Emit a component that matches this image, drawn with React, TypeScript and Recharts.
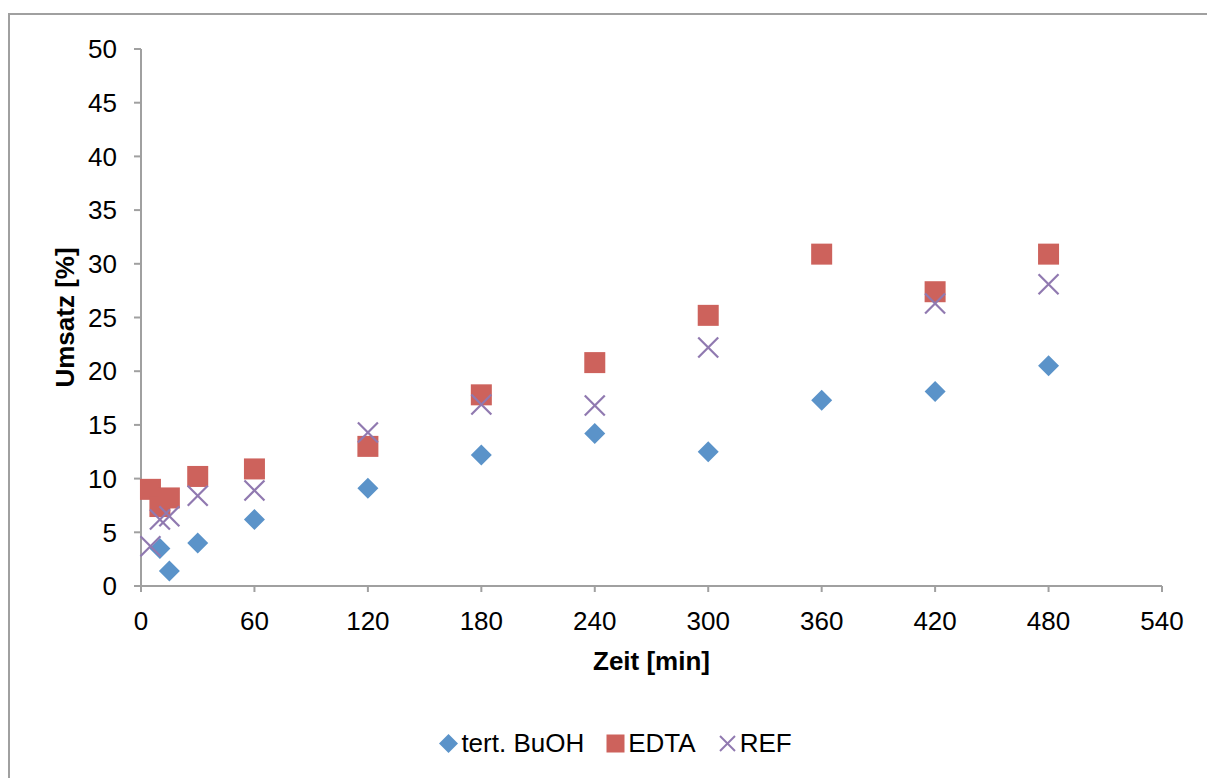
import {
  ScatterChart,
  Scatter,
  XAxis,
  YAxis,
  Legend,
  Label,
} from "recharts";

const buohTime = [10, 15, 30, 60, 120, 180, 240, 300, 360, 420, 480];
const buohValues = [3.5, 1.4, 4.0, 6.2, 9.1, 12.2, 14.2, 12.5, 17.3, 18.1, 20.5];

const edtaTime = [5, 10, 15, 30, 60, 120, 180, 240, 300, 360, 420, 480];
const edtaValues = [9.0, 7.4, 8.2, 10.2, 10.9, 13.0, 17.8, 20.8, 25.2, 30.9, 27.4, 30.9];

const refTime = [5, 10, 15, 30, 60, 120, 180, 240, 300, 420, 480];
const refValues = [3.7, 6.2, 6.5, 8.4, 8.9, 14.3, 16.9, 16.8, 22.2, 26.3, 28.1];

const xTicks = [0, 60, 120, 180, 240, 300, 360, 420, 480, 540];
const yTicks = [0, 5, 10, 15, 20, 25, 30, 35, 40, 45, 50];

const BLUE = "#5b93c9";
const RED = "#cd625c";
const PURPLE = "#9079b0";
const AXIS = "#a0a0a0";
const FONT = "'Liberation Sans', Arial, sans-serif";
const FS = 26;

const toPoints = (xs: number[], ys: number[]) =>
  xs.map((x, i) => ({ x, y: ys[i] }));

const buohData = toPoints(buohTime, buohValues);
const edtaData = toPoints(edtaTime, edtaValues);
const refData = toPoints(refTime, refValues);

const Diamond = (p: any) => {
  const { cx, cy } = p;
  const r = 10.5;
  return (
    <polygon
      points={`${cx},${cy - r} ${cx + r},${cy} ${cx},${cy + r} ${cx - r},${cy}`}
      fill={BLUE}
    />
  );
};

const Square = (p: any) => {
  const { cx, cy } = p;
  const s = 21;
  return <rect x={cx - s / 2} y={cy - s / 2} width={s} height={s} fill={RED} />;
};

const Cross = (p: any) => {
  const { cx, cy } = p;
  const r = 10;
  return (
    <g stroke={PURPLE} strokeWidth={2.2}>
      <line x1={cx - r} y1={cy - r} x2={cx + r} y2={cy + r} />
      <line x1={cx - r} y1={cy + r} x2={cx + r} y2={cy - r} />
    </g>
  );
};

const legendItems = [
  { name: "tert. BuOH", icon: "diamond" },
  { name: "EDTA", icon: "square" },
  { name: "REF", icon: "cross" },
];

function LegendIcon({ kind }: { kind: string }) {
  return (
    <svg width={19} height={19} style={{ marginRight: 3 }}>
      {kind === "diamond" && (
        <polygon points="9.5,0 19,9.5 9.5,19 0,9.5" fill={BLUE} />
      )}
      {kind === "square" && (
        <rect x={0.5} y={0.5} width={18} height={18} fill={RED} />
      )}
      {kind === "cross" && (
        <g stroke={PURPLE} strokeWidth={2}>
          <line x1={2} y1={2} x2={17} y2={17} />
          <line x1={2} y1={17} x2={17} y2={2} />
        </g>
      )}
    </svg>
  );
}

function renderLegend() {
  return (
    <div
      style={{
        display: "flex",
        justifyContent: "center",
        alignItems: "center",
        fontFamily: FONT,
        fontSize: FS,
        color: "#000",
        height: 30,
        paddingLeft: 8,
      }}
    >
      {legendItems.map((it) => (
        <div
          key={it.name}
          style={{ display: "flex", alignItems: "center", margin: "0 11px" }}
        >
          <LegendIcon kind={it.icon} />
          <span>{it.name}</span>
        </div>
      ))}
    </div>
  );
}

export default function App() {
  return (
    <div
      style={{
        position: "relative",
        width: 1207,
        height: 770,
        overflow: "hidden",
        background: "#fff",
      }}
    >
      <div
        style={{
          position: "absolute",
          left: 0,
          top: 5,
          width: 1220,
          height: 800,
          borderTop: `2px solid ${AXIS}`,
          borderLeft: `2px solid ${AXIS}`,
        }}
      />
      <ScatterChart
        width={1207}
        height={770}
        margin={{ top: 41, right: 53, bottom: 132, left: 73 }}
        style={{ position: "absolute", left: 0, top: 0 }}
      >
        <XAxis
          type="number"
          dataKey="x"
          domain={[0, 540]}
          ticks={xTicks}
          interval={0}
          height={60}
          stroke={AXIS}
          strokeWidth={2}
          tickSize={6}
          tickMargin={20}
          tick={{ fill: "#000", fontSize: FS, fontFamily: FONT }}
        >
          <Label
            content={(props: any) => {
              const vb = props.viewBox || {};
              return (
                <text
                  x={vb.x + vb.width / 2}
                  y={653}
                  textAnchor="middle"
                  dominantBaseline="central"
                  fontFamily={FONT}
                  fontSize={FS}
                  fontWeight="bold"
                  fill="#000"
                >
                  Zeit [min]
                </text>
              );
            }}
          />
        </XAxis>
        <YAxis
          type="number"
          dataKey="y"
          domain={[0, 50]}
          ticks={yTicks}
          interval={0}
          width={60}
          stroke={AXIS}
          strokeWidth={2}
          tickSize={7}
          tickMargin={17}
          tick={{ fill: "#000", fontSize: FS, fontFamily: FONT }}
        >
          <Label
            content={(props: any) => {
              const vb = props.viewBox || {};
              const cy = vb.y + vb.height / 2;
              return (
                <text
                  x={57}
                  y={cy}
                  transform={`rotate(-90, 57, ${cy})`}
                  textAnchor="middle"
                  dominantBaseline="central"
                  fontFamily={FONT}
                  fontSize={FS}
                  fontWeight="bold"
                  fill="#000"
                >
                  Umsatz [%]
                </text>
              );
            }}
          />
        </YAxis>
        <Legend
          layout="horizontal"
          verticalAlign="middle"
          align="center"
          content={renderLegend}
          wrapperStyle={{ top: 720, left: 0, width: 1207 }}
        />
        <Scatter
          name="tert. BuOH"
          data={buohData}
          shape={Diamond}
          isAnimationActive={false}
        />
        <Scatter
          name="EDTA"
          data={edtaData}
          shape={Square}
          isAnimationActive={false}
        />
        <Scatter
          name="REF"
          data={refData}
          shape={Cross}
          isAnimationActive={false}
        />
      </ScatterChart>
    </div>
  );
}
